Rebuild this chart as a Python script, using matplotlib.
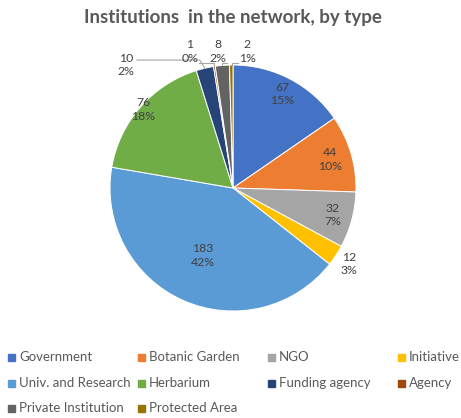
import numpy as np
import matplotlib.pyplot as plt
from matplotlib.patches import Rectangle

categories = ["Government", "Botanic Garden", "NGO", "Initiative",
              "Univ. and Research", "Herbarium", "Funding agency", "Agency",
              "Private Institution", "Protected Area"]
counts = [67, 44, 32, 12, 183, 76, 10, 1, 8, 2]
pct_labels = ["15%", "10%", "7%", "3%", "42%", "18%", "2%", "0%", "2%", "1%"]
colors = ["#4472C4", "#ED7D31", "#A5A5A5", "#FFC000", "#5B9BD5",
          "#70AD47", "#264478", "#9E480E", "#636363", "#997300"]

plt.rcParams['font.family'] = ['Lato', 'DejaVu Sans']
W, H = 461, 418
fig = plt.figure(figsize=(W / 100, H / 100), dpi=100)

# pie centre and radius in pixels
cx, cy, R = 233, 188, 123
span = 1.6
ax = fig.add_axes([(cx - span * R) / W, (H - cy - span * R) / H,
                   2 * span * R / W, 2 * span * R / H])

wedges, _ = ax.pie(counts, colors=colors, startangle=90, counterclock=False,
                   radius=1, wedgeprops=dict(edgecolor='white', linewidth=0.7))
ax.set_xlim(-span, span)
ax.set_ylim(-span, span)
ax.set_aspect('equal')
ax.axis('off')

txt_col = "#404040"
# label radius for in-slice / outside labels
label_r = [0.86, 0.82, 0.84, 1.13, 0.6, 0.97]
# small slices at the top get labels above the pie
top_pos = {6: (-0.87, 1.0), 7: (-0.35, 1.11), 8: (-0.12, 1.11), 9: (0.115, 1.11)}

for i, w in enumerate(wedges):
    mid = np.deg2rad((w.theta1 + w.theta2) / 2)
    txt = f"{counts[i]}\n{pct_labels[i]}"
    if i in top_pos:
        tx, ty = top_pos[i]
        ex, ey = np.cos(mid), np.sin(mid)
        ax.text(tx, ty, txt, ha='center', va='center', fontsize=8.8,
                color=txt_col, linespacing=1.25)
        if i == 6:
            pts = [(tx + 0.09, ty + 0.04), (-0.27, ty + 0.04), (ex, ey)]
        elif i == 9:
            pts = [(tx - 0.075, ty - 0.09), (ex + 0.005, ty - 0.09), (ex + 0.005, ey)]
        else:
            pts = [(tx + 0.075, ty - 0.09), (ex, ty - 0.09), (ex, ey)]
        xs, ys = zip(*pts)
        ax.plot(xs, ys, color="#a6a6a6", lw=0.8, clip_on=False)
    else:
        r = label_r[i]
        ax.text(r * np.cos(mid), r * np.sin(mid), txt, ha='center', va='center',
                fontsize=8.8, color=txt_col, linespacing=1.25)

fig.text(0.505, 1 - 18 / H, "Institutions  in the network, by type",
         ha='center', va='center', fontsize=13.5, fontweight='bold',
         color="#595959")

# legend, filled row by row in 4 columns
leg_x0, leg_dx = 8, 130
leg_y = [357, 383, 408]
for i, (lab, col) in enumerate(zip(categories, colors)):
    r, c = divmod(i, 4)
    x = leg_x0 + c * leg_dx
    y = leg_y[r]
    fig.patches.append(Rectangle(((x) / W, (H - y - 3.5) / H), 7 / W, 7 / H,
                                 transform=fig.transFigure, color=col))
    fig.text((x + 11) / W, (H - y) / H, lab, ha='left', va='center',
             fontsize=9.5, color="#595959")

fig.savefig("out.png", dpi=100)
